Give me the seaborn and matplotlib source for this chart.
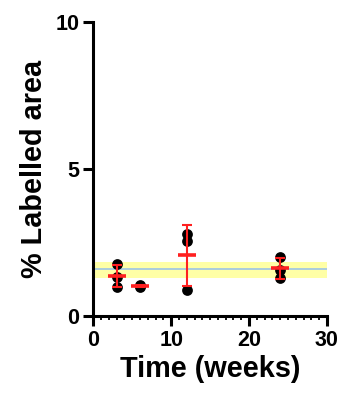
import numpy as np
import pandas as pd
import matplotlib
matplotlib.use('Agg')
import matplotlib.pyplot as plt
import seaborn as sns
from matplotlib.ticker import MultipleLocator

# Dane
time_weeks = [3, 3, 3, 6, 6, 6, 12, 12, 12, 24, 24, 24]
labelled_area = [1.76, 1.34, 1.00, 1.06, 1.00, 1.03, 2.78, 2.55, 0.88, 2.02, 1.55, 1.29]
band_low, band_mid, band_high = 1.30, 1.60, 1.83
x_ticks = [0, 10, 20, 30]
y_ticks = [0, 5, 10]

df = pd.DataFrame({'time': time_weeks, 'area': labelled_area})
stats = df.groupby('time')['area'].agg(['mean', 'std']).reset_index()

sns.set_style('ticks')
plt.rcParams['font.family'] = ['Liberation Sans', 'DejaVu Sans']
plt.rcParams['font.weight'] = 'bold'
plt.rcParams['text.color'] = 'black'
plt.rcParams['axes.labelcolor'] = 'black'
plt.rcParams['xtick.color'] = 'black'
plt.rcParams['ytick.color'] = 'black'

fig = plt.figure(figsize=(3.43, 3.95), dpi=100)
ax = fig.add_axes([0.272, 0.2, 0.681, 0.744])

# Pas referencyjny
ax.fill_between([0, 30], band_low, band_high, color='#ffffa6', lw=0, zorder=1)
ax.axhline(band_mid, xmin=0, xmax=1, color='#9dc3e6', lw=1.2, zorder=2)

sns.scatterplot(data=df, x='time', y='area', color='black', s=60,
                edgecolor='black', linewidth=0, ax=ax, zorder=3, clip_on=False)

# Średnia ± SD
ax.errorbar(stats['time'], stats['mean'], yerr=stats['std'], fmt='none',
            ecolor='#ff2020', elinewidth=1.5, capsize=3.5, capthick=1.5, zorder=4)
ax.scatter(stats['time'], stats['mean'], marker='_', s=160, color='#ff2020',
           linewidths=2.6, zorder=5)

ax.set_xlim(0, 30)
ax.set_ylim(0, 10)
ax.set_xticks(x_ticks)
ax.set_yticks(y_ticks)
ax.xaxis.set_minor_locator(MultipleLocator(1))
ax.tick_params(axis='both', which='major', direction='out', length=7, width=2.2,
               labelsize=15.5, pad=3, colors='black')
ax.tick_params(axis='x', which='minor', direction='out', length=3, width=1.3)
for lab in ax.get_xticklabels() + ax.get_yticklabels():
    lab.set_fontweight('bold')
    lab.set_color('black')

sns.despine(ax=ax)
for side in ['left', 'bottom']:
    ax.spines[side].set_linewidth(2.2)
    ax.spines[side].set_color('black')

ax.set_xlabel('Time (weeks)', fontsize=20.8, fontweight='bold', labelpad=3, color='black')
ax.set_ylabel('% Labelled area', fontsize=20.8, fontweight='bold', labelpad=5, color='black')

fig.savefig('out.png', dpi=100)
plt.close(fig)
